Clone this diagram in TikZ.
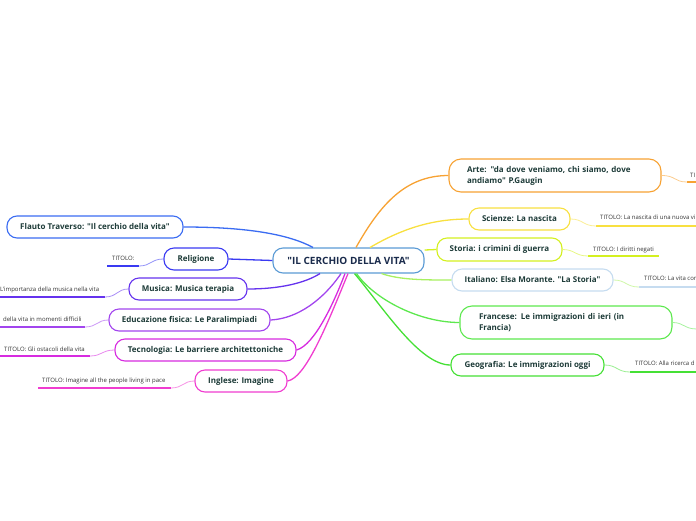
\documentclass[tikz,border=0pt]{standalone}
\usepackage{fontspec}
\setmainfont{Open Sans}[Ligatures=TeXOff]
\definecolor{cCenter}{HTML}{5B9BD5}
\definecolor{centerTxt}{HTML}{1A2B4C}
\definecolor{nodeTxt}{HTML}{1D3B38}
\definecolor{subTxt}{HTML}{333333}
\definecolor{cFlauto}{HTML}{3B6CF2}
\definecolor{cRelig}{HTML}{3A3AF2}
\definecolor{cMusica}{HTML}{6533EE}
\definecolor{cEdu}{HTML}{A245EE}
\definecolor{cTecno}{HTML}{D72BE0}
\definecolor{cIngl}{HTML}{F03CD0}
\definecolor{cArte}{HTML}{F7A233}
\definecolor{cSci}{HTML}{F8E040}
\definecolor{cStoria}{HTML}{D4F020}
\definecolor{cItalBox}{HTML}{C6DCF0}
\definecolor{cItalLine}{HTML}{A8F060}
\definecolor{cFranc}{HTML}{5DE84E}
\definecolor{cGeo}{HTML}{45E035}
\tikzset{
  brbox/.style={draw=#1, line width=1.1pt, rounded corners=10pt, fill=white, text=nodeTxt,
    font=\bfseries\fontsize{8}{11}\selectfont, inner sep=0pt, minimum height=22pt},
  conn/.style={draw=#1, line width=1.3pt},
  subtxt/.style={font=\fontsize{6}{7}\selectfont, text=subTxt, inner sep=0pt, anchor=base west},
  uline/.style={draw=#1, line width=1.8pt},
  subconn/.style={draw=#1!55!white, line width=0.8pt},
}
\begin{document}
\begin{tikzpicture}[x=1pt,y=-1pt]
\useasboundingbox (0,0) rectangle (696,520);
\clip (0,0) rectangle (696,520);
% central node
\node[draw=cCenter, line width=1.1pt, rounded corners=10pt, fill=white, text=centerTxt,
  font=\bfseries\fontsize{10}{12}\selectfont, inner sep=0pt, minimum width=151pt, minimum height=25pt]
  (center) at (348.5,260.5) {"IL CERCHIO DELLA VITA"};
% left branches
\node[brbox=cFlauto, minimum width=176pt] (flauto) at (95,227) {Flauto Traverso: "Il cerchio della vita"};
\node[brbox=cRelig, minimum width=64pt] (relig) at (196,259) {Religione};
\node[brbox=cMusica, minimum width=118pt] (musica) at (188,289) {Musica: Musica terapia};
\node[brbox=cEdu, minimum width=161pt] (edu) at (189.5,320) {Educazione fisica: Le Paralimpiadi};
\node[brbox=cTecno, minimum width=181pt] (tecno) at (205.5,350) {Tecnologia: Le barriere architettoniche};
\node[brbox=cIngl, minimum width=92pt] (ingl) at (241,381) {Inglese: Imagine};
% right branches
\node[brbox=cArte, minimum height=33pt, rounded corners=12pt, inner xsep=18pt, text width=176pt, align=left]
  (arte) at (555,175.5) {Arte: "da dove veniamo, chi siamo, dove\\andiamo" P.Gaugin};
\node[brbox=cSci, minimum width=101pt] (sci) at (519.5,219) {Scienze: La nascita};
\node[brbox=cStoria, minimum width=125pt, minimum height=23pt] (storia) at (499.5,249.5) {Storia: i crimini di guerra};
\node[brbox=cItalBox, minimum width=161pt] (ital) at (532.5,280) {Italiano: Elsa Morante. "La Storia"};
\node[brbox=cFranc, minimum height=33pt, rounded corners=12pt, inner xsep=19pt, text width=174pt, align=left]
  (franc) at (566,322.5) {Francese: Le immigrazioni di ieri (in\\Francia)};
\node[brbox=cGeo, minimum width=153pt] (geo) at (527.5,365) {Geografia: Le immigrazioni oggi};
% main connectors
\draw[conn=cFlauto] ([xshift=-35.5pt]center.north) .. controls (290,235) and (250,227) .. (flauto.east);
\draw[conn=cRelig] (center.west) -- (relig.east);
\draw[conn=cMusica] ([xshift=-28.5pt]center.south) .. controls (305,283) and (280,289) .. (musica.east);
\draw[conn=cEdu] ([xshift=-7.5pt]center.south) .. controls (330,290) and (305,318) .. (edu.east);
\draw[conn=cTecno] ([xshift=-3.5pt]center.south) .. controls (335,300) and (315,345) .. (tecno.east);
\draw[conn=cIngl] ([xshift=-0.5pt]center.south) .. controls (325,330) and (305,378) .. (ingl.east);
\draw[conn=cArte] ([xshift=7.5pt]center.north) .. controls (380,205) and (405,175.5) .. (arte.west);
\draw[conn=cSci] ([xshift=21.5pt]center.north) .. controls (400,230) and (430,219) .. (sci.west);
\draw[conn=cStoria] ([yshift=10.5pt]center.east) -- (storia.west);
\draw[conn=cItalLine] ([xshift=33pt]center.south) .. controls (400,280) and (425,280) .. (ital.west);
\draw[conn=cFranc] ([xshift=8pt]center.south) .. controls (375,300) and (420,322.5) .. (franc.west);
\draw[conn=cGeo] ([xshift=6pt]center.south) .. controls (385,310) and (420,365) .. (geo.west);
% right subtopics
\coordinate (arteA) at (687,182); \coordinate (arteB) at (697,182);
\node[subtxt] (arteT) at (690,177.5) {TI};
\draw[uline=cArte] (arteA) -- (arteB);
\draw[subconn=cArte] (arte.east) .. controls (676,175.5) and (674,182) .. (arteA);

\coordinate (sciA) at (596,226); \coordinate (sciB) at (697,226);
\node[subtxt] (sciT) at (600,219) {TITOLO: La nascita di una nuova vi};
\draw[uline=cSci] (sciA) -- (sciB);
\draw[subconn=cSci] (sci.east) .. controls (583,219) and (583,226) .. (sciA);

\coordinate (stoA) at (588,256); \coordinate (stoB) at (659,256);
\node[subtxt] (stoT) at (593,251) {TITOLO: I diritti negati};
\draw[uline=cStoria] (stoA) -- (stoB);
\draw[subconn=cStoria] (storia.east) .. controls (575,249.5) and (575,256) .. (stoA);

\coordinate (itaA) at (639,287); \coordinate (itaB) at (697,287);
\node[subtxt] (itaT) at (644,280.5) {TITOLO: La vita cor};
\draw[uline=cItalBox] (itaA) -- (itaB);
\draw[subconn=cItalLine] (ital.east) .. controls (626,280) and (626,287) .. (itaA);

\coordinate (fraA) at (697,329);
\draw[subconn=cFranc] (franc.east) .. controls (684,322.5) and (684,329) .. (fraA);

\coordinate (geoA) at (630,372); \coordinate (geoB) at (697,372);
\node[subtxt] (geoT) at (635,365.5) {TITOLO: Alla ricerca d};
\draw[uline=cGeo] (geoA) -- (geoB);
\draw[subconn=cGeo] (geo.east) .. controls (617,365) and (617,372) .. (geoA);
% left subtopics
\coordinate (relA) at (139,266); \coordinate (relB) at (107,266);
\node[subtxt] (relT) at (112,260) {TITOLO:};
\draw[uline=cRelig] (relA) -- (relB);
\draw[subconn=cRelig] (relig.west) .. controls (151,259) and (151,266) .. (relA);

\coordinate (musA) at (105,297); \coordinate (musB) at (-1,297);
\node[subtxt] (musT) at (0,291) {L'importanza della musica nella vita};
\draw[uline=cMusica] (musA) -- (musB);
\draw[subconn=cMusica] (musica.west) .. controls (117,289) and (117,297) .. (musA);

\coordinate (eduA) at (85,327); \coordinate (eduB) at (-1,327);
\node[subtxt] (eduT) at (3,321.5) {della vita in momenti difficili};
\draw[uline=cEdu] (eduA) -- (eduB);
\draw[subconn=cEdu] (edu.west) .. controls (97,320) and (97,327) .. (eduA);

\coordinate (tecA) at (90,356); \coordinate (tecB) at (-1,356);
\node[subtxt] (tecT) at (4,351) {TITOLO: Gli ostacoli della vita};
\draw[uline=cTecno] (tecA) -- (tecB);
\draw[subconn=cTecno] (tecno.west) .. controls (102,350) and (102,356) .. (tecA);

\coordinate (ingA) at (171,388); \coordinate (ingB) at (38,388);
\node[subtxt] (ingT) at (42,382) {TITOLO: Imagine all the people living in pace};
\draw[uline=cIngl] (ingA) -- (ingB);
\draw[subconn=cIngl] (ingl.west) .. controls (183,381) and (183,388) .. (ingA);
\end{tikzpicture}
\end{document}
